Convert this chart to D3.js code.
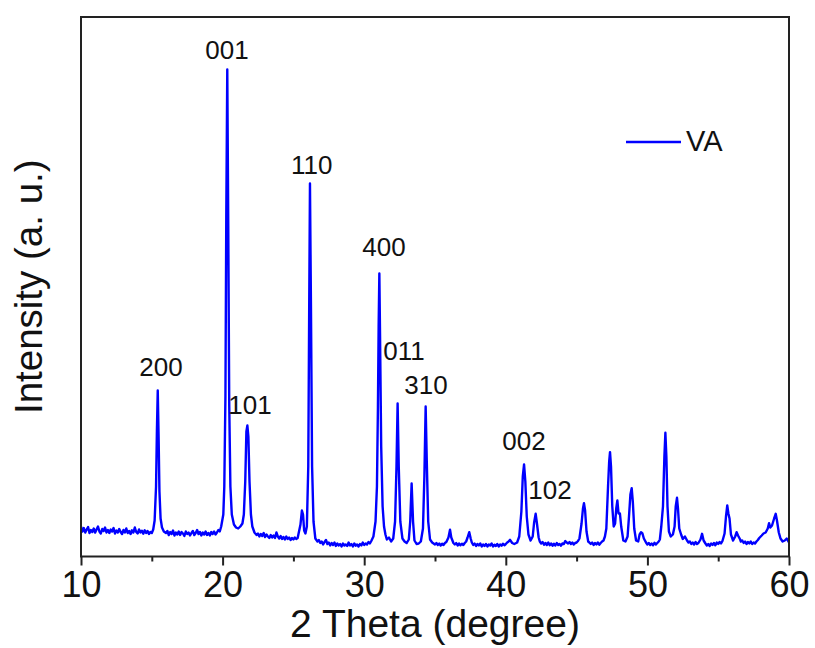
<!DOCTYPE html>
<html>
<head>
<meta charset="utf-8">
<script src="https://d3js.org/d3.v7.min.js"></script>
<style>
  body { margin: 0; background: #fff; }
  text { font-family: "Liberation Sans", Arial, sans-serif; }
</style>
</head>
<body>
<div id="container"></div>
<script>
// XRD pattern of VA, 2 theta (degree) vs intensity (a.u.)
var twoTheta = [
  10.0, 10.1, 10.2, 10.3, 10.4, 10.5, 10.6, 10.7, 10.8, 10.9,
  11.0, 11.1, 11.2, 11.3, 11.4, 11.5, 11.6, 11.7, 11.8, 11.9,
  12.0, 12.1, 12.2, 12.3, 12.4, 12.5, 12.6, 12.7, 12.8, 12.9,
  13.0, 13.1, 13.2, 13.3, 13.4, 13.5, 13.6, 13.7, 13.8, 13.9,
  14.0, 14.1, 14.2, 14.3, 14.4, 14.5, 14.6, 14.7, 14.8, 14.9,
  15.0, 15.1, 15.2, 15.3, 15.36, 15.42, 15.48, 15.54, 15.62, 15.72, 15.85,
  16.0, 16.1, 16.2, 16.3, 16.4, 16.5, 16.6, 16.7, 16.8, 16.9,
  17.0, 17.1, 17.2, 17.3, 17.4, 17.5, 17.6, 17.7, 17.8, 17.9,
  18.0, 18.1, 18.2, 18.3, 18.4, 18.5, 18.6, 18.7, 18.8, 18.9,
  19.0, 19.1, 19.2, 19.3, 19.4, 19.5, 19.6, 19.7, 19.8, 19.9,
  20.05, 20.12, 20.2, 20.26, 20.33, 20.4, 20.47, 20.55, 20.65, 20.8, 20.95, 21.1, 21.25, 21.4,
  21.5, 21.6, 21.68, 21.75, 21.82, 21.9, 22.0, 22.1, 22.25, 22.4,
  22.5, 22.6, 22.7, 22.8, 22.9, 23.0, 23.1, 23.2, 23.3, 23.4,
  23.5, 23.6, 23.7, 23.8, 23.9, 24.0, 24.1, 24.2, 24.3, 24.4,
  24.5, 24.6, 24.7, 24.8, 24.9, 25.0, 25.1, 25.2, 25.3,
  25.5, 25.6, 25.68, 25.76, 25.85, 25.95, 26.05, 26.12, 26.17, 26.24, 26.32, 26.42, 26.55,
  26.7, 26.8, 26.9, 27.0, 27.1, 27.2, 27.3, 27.4, 27.5, 27.6,
  27.7, 27.8, 27.9, 28.0, 28.1, 28.2, 28.3, 28.4, 28.5, 28.6,
  28.7, 28.8, 28.9, 29.0, 29.1, 29.2, 29.3, 29.4, 29.5, 29.6,
  29.7, 29.8, 29.9, 30.0, 30.1, 30.2, 30.3, 30.4, 30.5,
  30.65, 30.8, 30.9, 30.97, 31.02, 31.07, 31.12, 31.2, 31.3, 31.4, 31.5, 31.6, 31.75, 31.9,
  32.05, 32.18, 32.28, 32.36, 32.44, 32.55, 32.7, 32.85,
  33.0, 33.15, 33.25, 33.35, 33.45, 33.55, 33.7, 33.85,
  34.0, 34.15, 34.25, 34.34, 34.42, 34.52, 34.65, 34.8,
  35.0, 35.1, 35.2, 35.3, 35.4, 35.5, 35.6, 35.7, 35.8,
  35.95, 36.06, 36.15, 36.3, 36.4, 36.5, 36.6, 36.7, 36.8, 36.9, 37.0, 37.1, 37.2,
  37.3, 37.42, 37.52, 37.6,
  37.7, 37.8, 37.9, 38.0, 38.1, 38.2, 38.3, 38.4, 38.5, 38.6,
  38.7, 38.8, 38.9, 39.0, 39.1, 39.2, 39.3, 39.4, 39.5, 39.6,
  39.7, 39.8, 39.9, 40.0, 40.1, 40.2,
  40.3, 40.45, 40.6, 40.8, 40.95, 41.1, 41.2, 41.29, 41.38, 41.48, 41.6,
  41.75, 41.9, 42.0, 42.11, 42.2, 42.32,
  42.4, 42.5, 42.6, 42.7, 42.8, 42.9, 43.0, 43.1, 43.2, 43.3,
  43.4, 43.5, 43.6, 43.7, 43.8, 43.9, 44.0, 44.1, 44.2, 44.3,
  44.4, 44.5, 44.6, 44.7, 44.8, 44.9, 45.0, 45.1,
  45.2, 45.35, 45.45, 45.52, 45.6, 45.7, 45.82,
  45.9, 46.0, 46.1, 46.2, 46.3, 46.4, 46.5, 46.6, 46.7, 46.8, 46.9, 47.0,
  47.1, 47.22, 47.3, 47.36, 47.43, 47.52, 47.62,
  47.72, 47.8, 47.88, 47.96, 48.06, 48.15, 48.3, 48.45, 48.6, 48.7, 48.8, 48.89, 48.97,
  49.07, 49.2, 49.35, 49.45, 49.55, 49.65, 49.75,
  49.9, 50.0, 50.1, 50.2, 50.3, 50.4, 50.5, 50.6, 50.7, 50.8,
  50.88, 50.98, 51.1, 51.2, 51.27, 51.34, 51.42, 51.52, 51.65, 51.8, 51.92, 52.0, 52.09, 52.16,
  52.25, 52.38, 52.5, 52.65,
  52.8, 52.9, 53.0, 53.1, 53.2, 53.3, 53.4, 53.5, 53.6, 53.75,
  53.86, 53.97,
  54.1, 54.2, 54.3, 54.4, 54.5, 54.6, 54.7, 54.8, 54.9, 55.0, 55.1, 55.2, 55.3,
  55.45, 55.55, 55.64, 55.72, 55.8, 55.9, 56.05, 56.2, 56.3, 56.4,
  56.55, 56.6, 56.7, 56.8, 56.9, 57.0, 57.1, 57.2, 57.3, 57.4, 57.5, 57.6, 57.7, 57.8, 57.9,
  58.07, 58.2, 58.35, 58.5, 58.59, 58.68, 58.8, 58.95, 59.06, 59.15, 59.28, 59.4, 59.55, 59.7, 59.84, 60.0
];

var intensity = [
  300, 250, 285, 240, 270, 295, 235, 265, 245, 280,
  240, 270, 300, 250, 230, 275, 255, 290, 240, 265,
  235, 270, 250, 285, 230, 260, 240, 275, 245, 225,
  265, 240, 280, 235, 255, 225, 262, 240, 290, 245,
  230, 270, 240, 258, 228, 262, 235, 255, 225, 245,
  235, 270, 360, 700, 1250, 1660, 1200, 650, 380, 290, 250,
  235, 255, 215, 245, 225, 260, 210, 240, 220, 250,
  215, 245, 230, 205, 250, 225, 240, 210, 235, 255,
  215, 235, 265, 225, 245, 210, 240, 220, 250, 215,
  235, 210, 245, 225, 250, 220, 240, 265, 250, 300,
  420, 700, 1600, 3400, 4870, 3300, 1500, 700, 420, 320, 290, 280, 300, 330,
  420, 750, 1250, 1310, 1200, 750, 420, 300, 240, 215,
  230, 200, 225, 205, 235, 195, 220, 200, 185, 215,
  190, 210, 185, 240, 200, 180, 205, 175, 195, 170,
  200, 175, 190, 165, 185, 170, 190, 175, 185,
  320, 460, 420, 260, 230, 300, 900, 2600, 3730, 2500, 900, 350, 180,
  150, 165, 135, 150, 120, 145, 165, 125, 140, 110,
  135, 115, 140, 105, 130, 110, 125, 100, 130, 110,
  120, 105, 140, 110, 125, 100, 130, 108, 120, 100,
  125, 110, 140, 115, 130, 120, 145, 130, 155,
  200, 350, 700, 1500, 2300, 2830, 2200, 1100, 500, 300, 220, 170, 190, 150,
  180, 350, 900, 1530, 900, 350, 180, 150,
  135, 170, 350, 730, 350, 160, 125, 130,
  150, 280, 800, 1500, 950, 350, 170, 140,
  120, 135, 115, 130, 110, 128, 115, 135, 145,
  190, 267, 190, 135, 120, 135, 110, 130, 112, 128, 115, 135, 150,
  190, 243, 180, 140,
  115, 130, 105, 125, 110, 130, 100, 120, 105, 125,
  100, 120, 110, 130, 100, 118, 105, 125, 100, 120,
  108, 128, 112, 125, 140, 150,
  167, 135, 125, 140, 200, 450, 800, 920, 750, 400, 220,
  160, 200, 340, 427, 330, 190,
  150, 130, 145, 118, 135, 115, 140, 112, 130, 108,
  128, 110, 135, 115, 125, 108, 130, 125, 155, 140,
  130, 145, 125, 140, 120, 135, 140, 155,
  180, 330, 480, 533, 460, 250, 150,
  140, 125, 140, 115, 135, 120, 140, 118, 135, 150, 160, 200,
  280, 700, 950, 1043, 900, 500, 300,
  330, 480, 560, 430, 430, 300, 160, 150, 200, 400, 620, 683, 550,
  280, 160, 150, 220, 243, 230, 180,
  140, 120, 135, 115, 130, 112, 138, 120, 135, 150,
  170, 300, 500, 1000, 1237, 1000, 500, 250, 200, 220, 300, 500, 587, 480,
  280, 220, 175, 200,
  160, 140, 150, 125, 140, 120, 145, 125, 135, 170,
  227, 160,
  130, 110, 125, 105, 130, 115, 135, 112, 140, 125, 145, 130, 155,
  230, 400, 510, 430, 380, 220, 160, 200, 243, 210,
  170, 150, 160, 135, 150, 125, 145, 130, 150, 125, 140, 130, 150, 165, 185,
  210, 230, 240, 280, 333, 290, 310, 380, 427, 360, 240, 180, 150, 160, 180, 140
];

// Miller index labels (anchor in data coords)
var peakLabels = ["200", "001", "101", "110", "400", "011", "310", "002", "102"];
var labelTheta = [15.65, 20.31, 21.93, 26.29, 31.40, 32.81, 34.36, 41.29, 43.12];
var labelIntensity = [1810, 4980, 1430, 3830, 3010, 1970, 1630, 1070, 580];

var xMajor = [10, 20, 30, 40, 50, 60];
var xMinor = [15, 25, 35, 45, 55];
var seriesName = "VA";

var width = 815,
    height = 648,
    margin = { left: 81, top: 17, right: 26, bottom: 91.5 },
    g_width = width - margin.left - margin.right,
    g_height = height - margin.top - margin.bottom;

var svg = d3.select("#container")
            .append("svg")
            .attr("width", width)
            .attr("height", height);

var g = svg.append("g")
           .attr("transform", "translate(" + margin.left + "," + margin.top + ")");

var scale_x = d3.scaleLinear()
                .domain([10, 60])
                .range([0, g_width]);

var scale_y = d3.scaleLinear()
                .domain([0, 5395])
                .range([g_height, 0]);

var n = Math.min(twoTheta.length, intensity.length);
var points = d3.range(n).map(function(i) { return [twoTheta[i], intensity[i]]; });

var line_generator = d3.line()
                       .x(function(d) { return scale_x(d[0]); })
                       .y(function(d) { return scale_y(d[1]); });

g.append("path")
 .attr("d", line_generator(points))
 .attr("fill", "none")
 .attr("stroke", "#0000ff")
 .attr("stroke-width", 2.4)
 .attr("stroke-linejoin", "round");

// frame
g.append("rect")
 .attr("x", 0).attr("y", 0)
 .attr("width", g_width).attr("height", g_height)
 .attr("fill", "none")
 .attr("stroke", "#222")
 .attr("stroke-width", 2);

// x axis, major + minor ticks
var x_axis = d3.axisBottom(scale_x)
               .tickValues(xMajor)
               .tickSize(9)
               .tickPadding(6)
               .tickFormat(d3.format("d"));

var xg = g.append("g")
          .attr("transform", "translate(0," + g_height + ")")
          .call(x_axis);
xg.select(".domain").remove();
xg.selectAll(".tick line").attr("stroke", "#222").attr("stroke-width", 2);
xg.selectAll(".tick text")
  .attr("font-size", 36)
  .attr("font-family", "Liberation Sans, Arial, sans-serif")
  .attr("fill", "#111");

var minor_axis = d3.axisBottom(scale_x)
                   .tickValues(xMinor)
                   .tickSize(5)
                   .tickFormat("");
var mg = g.append("g")
          .attr("transform", "translate(0," + g_height + ")")
          .call(minor_axis);
mg.select(".domain").remove();
mg.selectAll(".tick line").attr("stroke", "#222").attr("stroke-width", 2);

// peak labels
g.selectAll(".peak")
 .data(peakLabels)
 .enter()
 .append("text")
 .attr("class", "peak")
 .attr("x", function(d, i) { return scale_x(labelTheta[i]); })
 .attr("y", function(d, i) { return scale_y(labelIntensity[i]); })
 .attr("text-anchor", "middle")
 .attr("font-size", 26)
 .attr("fill", "#111")
 .text(function(d) { return d; });

// legend
g.append("line")
 .attr("x1", 545).attr("x2", 600)
 .attr("y1", 125).attr("y2", 125)
 .attr("stroke", "#0000ff")
 .attr("stroke-width", 2.4);
g.append("text")
 .attr("x", 605).attr("y", 134)
 .attr("font-size", 29)
 .attr("fill", "#111")
 .text(seriesName);

// axis titles
svg.append("text")
   .attr("x", margin.left + g_width / 2)
   .attr("y", 637)
   .attr("text-anchor", "middle")
   .attr("font-size", 39)
   .attr("fill", "#111")
   .text("2 Theta (degree)");

svg.append("text")
   .attr("transform", "translate(42," + (margin.top + g_height / 2) + ") rotate(-90)")
   .attr("text-anchor", "middle")
   .attr("font-size", 38.5)
   .attr("fill", "#111")
   .text("Intensity (a. u.)");
</script>
</body>
</html>
